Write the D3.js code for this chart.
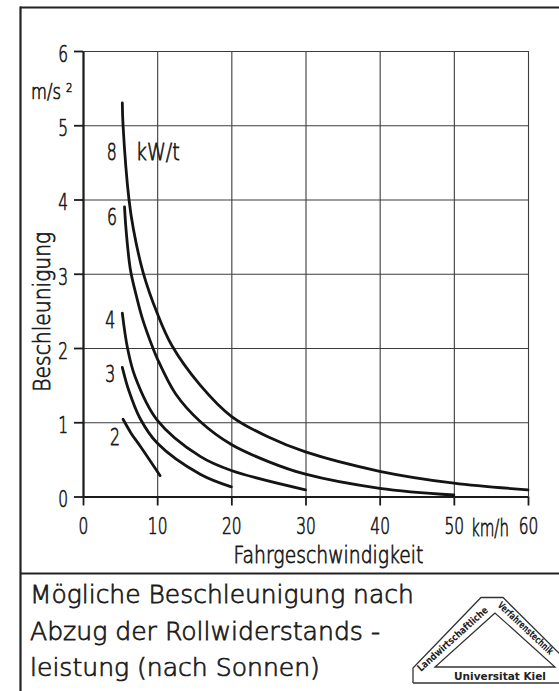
<!DOCTYPE html>
<html>
<head>
<meta charset="utf-8">
<script src="https://cdn.jsdelivr.net/npm/d3@7"></script>
<style>
  html, body { margin: 0; padding: 0; background: #fff; }
  svg { display: block; }
</style>
</head>
<body>
<svg id="chart" width="559" height="691"></svg>
<script>
// Specific drive power of each curve (kW per tonne)
const powerLabels = ["8", "6", "4", "3", "2"];

// Driving speed (km/h) and remaining acceleration (m/s²) along each curve
const speed8 = [5.3, 5.4, 6.2, 6.8, 8.1, 10, 12, 15.8, 20, 25, 30, 40, 50, 60];
const accel8 = [5.3, 5.0, 4.0, 3.6, 3.02, 2.47, 2.03, 1.5, 1.08, 0.8, 0.60, 0.34, 0.18, 0.09];

const speed6 = [5.6, 5.8, 6.4, 7.2, 8, 9.5, 10, 12.5, 15.8, 20, 25, 30, 40, 50];
const accel6 = [3.9, 3.6, 3.05, 2.7, 2.4, 1.98, 1.86, 1.38, 1.01, 0.70, 0.47, 0.30, 0.11, 0.02];

const speed4 = [5.3, 6.0, 7.0, 10, 15.8, 20, 30];
const accel4 = [2.47, 2.0, 1.62, 1.03, 0.54, 0.35, 0.09];

const speed3 = [5.3, 6.2, 7.7, 10, 15.8, 20];
const accel3 = [1.74, 1.42, 1.05, 0.72, 0.30, 0.13];

const speed2 = [5.4, 6.5, 7.7, 10.4];
const accel2 = [1.04, 0.85, 0.68, 0.28];

// Axis ticks
const speedTicks = [0, 10, 20, 30, 40, 50, 60];
const speedTickLabels = ["0", "10", "20", "30", "40", "50", "60"];
const accelTicks = [0, 1, 2, 3, 4, 5, 6];
const accelTickLabels = ["0", "1", "2", "3", "4", "5", "6"];

// Texts
const speedTitle = "Fahrgeschwindigkeit";
const speedUnit = "km/h";
const accelTitle = "Beschleunigung";
const accelUnit = "m/s";
const powerUnit = "kW/t";
const captionLines = ["Mögliche Beschleunigung nach", "Abzug der Rollwiderstands -", "leistung (nach Sonnen)"];
const logoLeft = "Landwirtschaftliche";
const logoRight = "Verfahrenstechnik";
const logoBottom = "Universitat Kiel";

const series = [
  { label: powerLabels[0], speed: speed8, accel: accel8 },
  { label: powerLabels[1], speed: speed6, accel: accel6 },
  { label: powerLabels[2], speed: speed4, accel: accel4 },
  { label: powerLabels[3], speed: speed3, accel: accel3 },
  { label: powerLabels[4], speed: speed2, accel: accel2 }
];

// ---- layout ----
const FONT = '"DejaVu Sans", sans-serif';
const LOGO_FONT = '"DejaVu Sans Condensed", "DejaVu Sans", sans-serif';
const INK = "#1b1b1b";
const svg = d3.select("#chart");

svg.append("rect").attr("width", 559).attr("height", 691).attr("fill", "#fff");

const x = d3.scaleLinear().domain([0, 60]).range([83, 528]);
const y = d3.scaleLinear().domain([0, 6]).range([496.5, 51]);

// Thin stencil-like lettering: light face with a fine outline stroke
function letter(sel, size) {
  return sel.attr("font-family", FONT)
    .attr("font-size", size)
    .attr("font-weight", 200)
    .attr("fill", INK)
    .attr("stroke", INK)
    .attr("stroke-width", 0.75);
}

// Narrow lettering: squeeze the text horizontally to the given width
function txt(parent, s, px, py, size, width, anchor, angle, styler) {
  const t = parent.append("text")
    .attr("x", 0).attr("y", 0)
    .attr("text-anchor", anchor || "start")
    .text(s);
  (styler || letter)(t, size);
  const k = width / t.node().getComputedTextLength();
  t.attr("transform", `translate(${px},${py}) rotate(${angle || 0}) scale(${k},1)`);
  return t;
}

// Drawing-sheet frame: left edge, top edge and caption separator
const frame = svg.append("g").attr("stroke", "#222").attr("stroke-width", 2.2).attr("fill", "none");
frame.append("line").attr("x1", 20).attr("y1", 7.5).attr("x2", 559).attr("y2", 7.5);
frame.append("line").attr("x1", 20.5).attr("y1", 6.5).attr("x2", 20.5).attr("y2", 691);
frame.append("line").attr("x1", 20).attr("y1", 573.5).attr("x2", 559).attr("y2", 573.5);

// Grid
const grid = svg.append("g");
grid.append("g")
  .attr("transform", `translate(0,${y(0)})`)
  .call(d3.axisBottom(x).tickValues(speedTicks).tickSize(-(y(0) - y(6))).tickFormat(""))
  .call(g => g.select(".domain").remove())
  .selectAll("line").attr("stroke", "#3c3c3c").attr("stroke-width", 1.1);
grid.append("g")
  .attr("transform", `translate(${x(0)},0)`)
  .call(d3.axisLeft(y).tickValues(accelTicks).tickSize(-(x(60) - x(0))).tickFormat(""))
  .call(g => g.select(".domain").remove())
  .selectAll("line").attr("stroke", "#3c3c3c").attr("stroke-width", 1.1);

// Axes
const xAxis = svg.append("g")
  .attr("transform", `translate(0,${y(0)})`)
  .call(d3.axisBottom(x).tickValues(speedTicks).tickSize(9).tickSizeOuter(0).tickPadding(12)
    .tickFormat((d, i) => speedTickLabels[i]));
const yAxis = svg.append("g")
  .attr("transform", `translate(${x(0)},0)`)
  .call(d3.axisLeft(y).tickValues(accelTicks).tickSize(9).tickSizeOuter(0).tickPadding(6)
    .tickFormat((d, i) => accelTickLabels[i]));
yAxis.selectAll(".tick text").attr("dy", "0.45em");
[xAxis, yAxis].forEach(a => {
  a.select(".domain").attr("stroke", INK).attr("stroke-width", 2.2);
  a.selectAll(".tick line").attr("stroke", INK).attr("stroke-width", 1.8);
  a.selectAll(".tick text").each(function () {
    const t = letter(d3.select(this), 23);
    const k = (t.text().length * 9.8) / this.getComputedTextLength();
    const x0 = +t.attr("x") || 0;
    t.attr("x", x0 / k).attr("transform", `scale(${k},1)`);
  });
});

// Axis titles and units
txt(svg, speedUnit, 471, 536, 23, 38);
txt(svg, speedTitle, 233.5, 563, 23, 190);
txt(svg, accelTitle, 50, 311.7, 23, 160, "middle", -90);
txt(svg, accelUnit, 31, 99.3, 21, 30);
txt(svg, "2", 66, 91.5, 13, 6.5);

// Curves
const line = d3.line()
  .x(d => x(d[0]))
  .y(d => y(d[1]))
  .curve(d3.curveCatmullRom.alpha(0.5));

svg.append("g").selectAll("path")
  .data(series)
  .join("path")
  .attr("d", s => line(s.speed.map((v, i) => [v, s.accel[i]])))
  .attr("fill", "none")
  .attr("stroke", "#141414")
  .attr("stroke-width", 2.8)
  .attr("stroke-linecap", "round");

// Curve labels, placed next to the start of each curve
const labelOffset = { "8": [-10.5, 57], "6": [-12.5, 18.5], "4": [-12, 15], "3": [-12, 14.5], "2": [-8, 26] };
series.forEach(s => {
  const px = x(s.speed[0]) + labelOffset[s.label][0];
  const py = y(s.accel[0]) + labelOffset[s.label][1];
  txt(svg, s.label, px, py, 23, 10, "middle");
  if (s.label === powerLabels[0]) txt(svg, powerUnit, px + 24, py, 23, 44);
});

// Caption
captionLines.forEach((c, i) => {
  txt(svg, c, 30, [603, 640, 676][i], 25, [384, 350, 290][i]);
});

// Institute logo (triangle)
const logo = svg.append("g");
logo.append("path")
  .attr("d", "M413,683 L413,668 L481,597.5 L503,597.5 L566,660")
  .attr("fill", "none").attr("stroke", "#333").attr("stroke-width", 1.3);
logo.append("line").attr("x1", 413).attr("y1", 683).attr("x2", 559).attr("y2", 683)
  .attr("stroke", "#333").attr("stroke-width", 1.3);
logo.append("path")
  .attr("d", "M495,613 L435,667 L555,667 Z")
  .attr("fill", "none").attr("stroke", "#333").attr("stroke-width", 1.3);
const logoStyle = (t, size) => t.attr("font-family", LOGO_FONT)
  .attr("font-size", size).attr("font-weight", "bold").attr("fill", "#222");
txt(logo, logoLeft, 421, 672, 10, 91, "start", -42, logoStyle);
txt(logo, logoRight, 497, 606, 10, 72, "start", 43, logoStyle);
txt(logo, logoBottom, 500, 680, 10, 92, "middle", 0, logoStyle);
</script>
</body>
</html>
